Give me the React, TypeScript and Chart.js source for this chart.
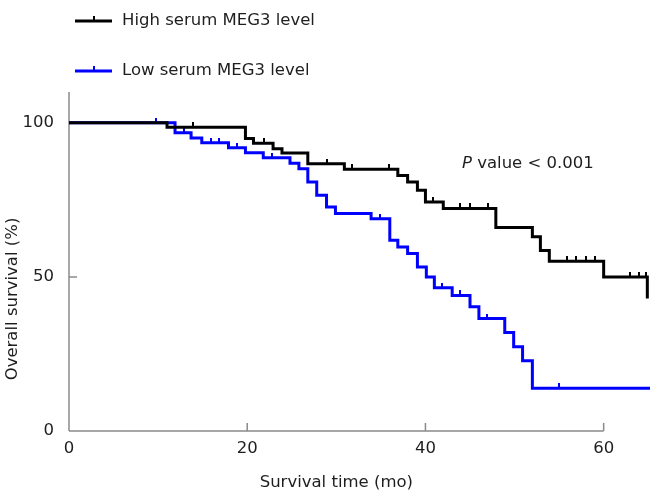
import React, { useEffect, useRef } from "react";
import { Chart, registerables } from "chart.js";

Chart.register(...registerables);

// ---- Data ----
const highTimes = [0, 11, 19.8, 20.7, 22.9, 23.9, 26.8, 30.9, 36.9, 38, 39.1, 40, 42, 47.9, 52, 52.9, 53.9, 60, 64.9];
const highSurvival = [100, 98.6, 94.9, 93.4, 91.6, 90.2, 86.7, 84.9, 82.9, 80.8, 78.1, 74.3, 72.2, 66, 63, 58.6, 55.1, 50, 43];
const highCensorTimes = [13.9, 21.9, 28.9, 31.8, 35.9, 40.9, 43.9, 45, 47, 55.9, 56.9, 58, 59, 62.9, 64, 64.8];

const lowTimes = [0, 11.9, 13.7, 14.9, 17.9, 19.8, 21.8, 24.8, 25.8, 26.8, 27.8, 28.9, 29.9, 33.9, 36, 36.9, 38, 39.1, 40.1, 41, 43, 45, 46, 48.9, 49.9, 50.9, 52, 65.2];
const lowSurvival = [100, 96.8, 95.1, 93.5, 91.9, 90.3, 88.7, 86.9, 85.1, 80.8, 76.5, 72.7, 70.6, 68.9, 61.9, 59.7, 57.6, 53.2, 50, 46.5, 44, 40.3, 36.5, 32, 27.3, 22.8, 13.9, 13.9];
const lowCensorTimes = [9.8, 12.9, 15.9, 16.8, 18.9, 22.8, 34.9, 41.9, 43.9, 46.9, 55];

const xTicks = [0, 20, 40, 60];
const yTicks = [0, 50, 100];
const seriesLabels = ["High serum MEG3 level", "Low serum MEG3 level"];
const seriesColors = ["#000000", "#0000ff"];
const xTitle = "Survival time (mo)";
const yTitle = "Overall survival (%)";
const pItalic = "P";
const pRest = " value < 0.001";

const FONT_FAMILY = "'DejaVu Sans', Verdana, sans-serif";
const FONT_SIZE = 16.5;
const TEXT_COLOR = "#1e1e1e";
const AXIS_COLOR = "#8a8a8a";

function levelAt(times: number[], surv: number[], t: number) {
  let v = surv[0];
  for (let i = 0; i < times.length; i++) if (times[i] <= t) v = surv[i];
  return v;
}

function makeTick(color: string) {
  const c = document.createElement("canvas");
  c.width = 2;
  c.height = 10;
  const g = c.getContext("2d")!;
  g.fillStyle = color;
  g.fillRect(0, 0, 2, 5);
  return c;
}

const overlayPlugin = {
  id: "kmOverlay",
  beforeDatasetsDraw(chart: any) {
    const { ctx, scales } = chart;
    const xs = scales.x, ys = scales.y;
    const x0 = xs.getPixelForValue(0);
    const y0 = ys.getPixelForValue(0);
    ctx.save();
    ctx.strokeStyle = AXIS_COLOR;
    ctx.lineWidth = 1.5;
    ctx.beginPath();
    ctx.moveTo(x0, y0);
    ctx.lineTo(x0, ys.getPixelForValue(ys.max));
    ctx.moveTo(x0, y0);
    ctx.lineTo(xs.getPixelForValue(xTicks[xTicks.length - 1]), y0);
    yTicks.forEach((v) => {
      const py = ys.getPixelForValue(v);
      ctx.moveTo(x0, py);
      ctx.lineTo(x0 + 8, py);
    });
    xTicks.forEach((v) => {
      const px = xs.getPixelForValue(v);
      ctx.moveTo(px, y0);
      ctx.lineTo(px, y0 - 8);
    });
    ctx.stroke();
    ctx.restore();
  },
  afterDraw(chart: any) {
    const { ctx, scales } = chart;
    const xs = scales.x;
    ctx.save();
    const font = `${FONT_SIZE}px ${FONT_FAMILY}`;
    ctx.font = font;
    ctx.fillStyle = TEXT_COLOR;
    // x title centred on the 0..60 axis
    ctx.textAlign = "center";
    ctx.textBaseline = "middle";
    const xc = (xs.getPixelForValue(xTicks[0]) + xs.getPixelForValue(xTicks[xTicks.length - 1])) / 2;
    ctx.fillText(xTitle, xc, 483);
    // y title
    ctx.save();
    ctx.translate(13, 299);
    ctx.rotate(-Math.PI / 2);
    ctx.fillText(yTitle, 0, 0);
    ctx.restore();
    // legend
    const legendY = [21, 71];
    seriesLabels.forEach((lab, i) => {
      const y = legendY[i];
      ctx.strokeStyle = seriesColors[i];
      ctx.lineWidth = 3;
      ctx.beginPath();
      ctx.moveTo(75, y);
      ctx.lineTo(112, y);
      ctx.stroke();
      ctx.fillStyle = seriesColors[i];
      ctx.fillRect(93, y - 5, 2, 5);
      ctx.fillStyle = TEXT_COLOR;
      ctx.textAlign = "left";
      ctx.textBaseline = "middle";
      ctx.fillText(lab, 122, y);
    });
    // P value
    ctx.textBaseline = "alphabetic";
    ctx.textAlign = "left";
    ctx.font = `italic ${FONT_SIZE}px ${FONT_FAMILY}`;
    ctx.fillText(pItalic, 462, 168);
    const w = ctx.measureText(pItalic).width;
    ctx.font = font;
    ctx.fillText(pRest, 462 + w, 168);
    ctx.restore();
  },
};

export default function App() {
  const ref = useRef<HTMLCanvasElement | null>(null);
  useEffect(() => {
    if (!ref.current) return;
    const highCensor = highCensorTimes.map((t) => ({ x: t, y: levelAt(highTimes, highSurvival, t) }));
    const lowCensor = lowCensorTimes.map((t) => ({ x: t, y: levelAt(lowTimes, lowSurvival, t) }));
    const tickFont = { family: FONT_FAMILY, size: FONT_SIZE };
    const chart = new Chart(ref.current, {
      type: "line",
      data: {
        datasets: [
          {
            label: seriesLabels[0] + " censored",
            data: highCensor,
            showLine: false,
            pointStyle: makeTick(seriesColors[0]) as any,
            pointRadius: 3,
            borderColor: seriesColors[0],
            backgroundColor: seriesColors[0],
            clip: false as any,
          },
          {
            label: seriesLabels[0],
            data: highTimes.map((t, i) => ({ x: t, y: highSurvival[i] })),
            stepped: "before",
            borderColor: seriesColors[0],
            borderWidth: 3,
            pointRadius: 0,
            fill: false,
            clip: false as any,
          },
          {
            label: seriesLabels[1] + " censored",
            data: lowCensor,
            showLine: false,
            pointStyle: makeTick(seriesColors[1]) as any,
            pointRadius: 3,
            borderColor: seriesColors[1],
            backgroundColor: seriesColors[1],
            clip: false as any,
          },
          {
            label: seriesLabels[1],
            data: lowTimes.map((t, i) => ({ x: t, y: lowSurvival[i] })),
            stepped: "before",
            borderColor: seriesColors[1],
            borderWidth: 3,
            pointRadius: 0,
            fill: false,
            clip: false as any,
          },
        ],
      },
      options: {
        animation: false,
        responsive: false,
        layout: { padding: { top: 92, right: 6, left: 0, bottom: 0 } },
        plugins: { legend: { display: false }, tooltip: { enabled: false } },
        events: [],
        scales: {
          x: {
            type: "linear",
            min: 0,
            max: 65.2,
            grid: { display: false },
            border: { display: false },
            afterBuildTicks: (s: any) => {
              s.ticks = xTicks.map((v) => ({ value: v }));
            },
            afterFit: (s: any) => {
              s.height = 69;
            },
            ticks: { font: tickFont, color: TEXT_COLOR, padding: 0, maxRotation: 0, autoSkip: false },
          },
          y: {
            type: "linear",
            min: 0,
            max: 110,
            grid: { display: false },
            border: { display: false },
            afterBuildTicks: (s: any) => {
              s.ticks = yTicks.map((v) => ({ value: v }));
            },
            afterFit: (s: any) => {
              s.width = 69;
            },
            ticks: { font: tickFont, color: TEXT_COLOR, padding: 7, autoSkip: false },
          },
        },
      },
      plugins: [overlayPlugin],
    });
    return () => chart.destroy();
  }, []);
  return (
    <div style={{ position: "fixed", left: 0, top: 0, width: 656, height: 500, background: "#fff" }}>
      <canvas ref={ref} width={656} height={500} style={{ display: "block", width: 656, height: 500 }} />
    </div>
  );
}
